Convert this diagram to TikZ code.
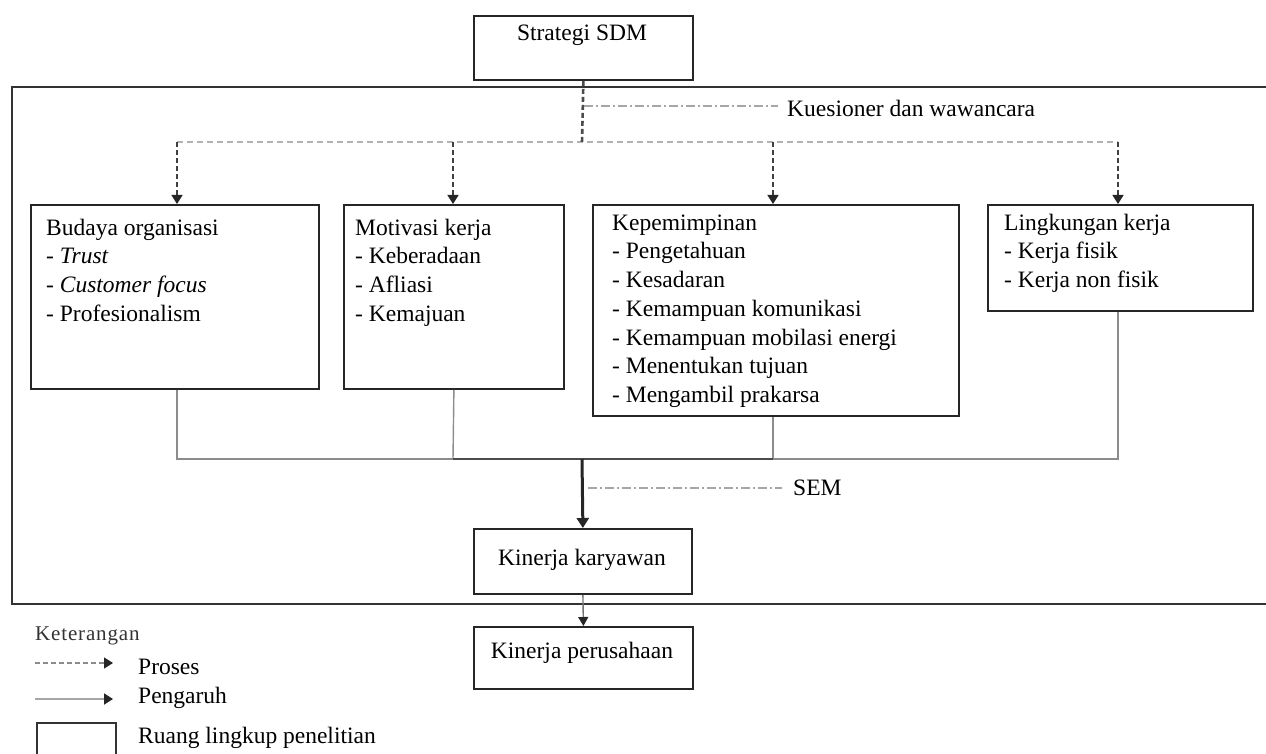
\documentclass[tikz,border=0pt]{standalone}
\usepackage{fontspec}
\setmainfont{Liberation Serif}
\newfontfamily\ketfont[LetterSpace=4]{Liberation Serif}
\usetikzlibrary{arrows.meta}
\begin{document}
\begin{tikzpicture}[x=1pt,y=-1pt,
  box/.style={draw=black!85, line width=1.8pt, inner sep=0pt, anchor=north west},
  txt/.style={font=\fontsize{23.5}{28.7}\selectfont, align=left, inner sep=0pt, anchor=north west},
  ctxt/.style={font=\fontsize{23.5}{28.7}\selectfont, inner sep=0pt},
  tip/.style={-{Triangle[length=9pt,width=11pt,color=black!85]}},
  proc/.style={tip, draw=black!75, line width=1.5pt, dash pattern=on 5pt off 3pt},
  procmain/.style={draw=black!70, line width=2.6pt, dash pattern=on 5pt off 3pt},
  prochor/.style={draw=black!30, line width=2.8pt, dash pattern=on 6pt off 4pt},
  infl/.style={draw=black!45, line width=1.4pt},
  infldark/.style={draw=black!70, line width=1.6pt},
  bigarrow/.style={-{Triangle[length=10pt,width=12pt]}, draw=black!85, line width=3pt},
  smallarrow/.style={-{Triangle[length=9pt,width=10pt,color=black!85]}, draw=black!55, line width=1.4pt},
  dashdot/.style={draw=black!35, line width=1.6pt, dash pattern=on 9pt off 3pt on 2pt off 3pt},
  frame/.style={draw=black!80, line width=2.4pt},
]
\useasboundingbox (0,0) rectangle (1266,754);

% outer frame (scope of research)
\draw[frame] (1280,87) -- (12,87) -- (12,604) -- (1280,604);

% top box
\node[box, minimum width=219pt, minimum height=64pt] (sdm) at (473,15) {};
\node[ctxt] (sdmt) at (582,35) {Strategi SDM};

% four boxes
\node[box, minimum width=288pt, minimum height=184pt] (bud) at (30,204) {};
\node[box, minimum width=220pt, minimum height=184pt] (mot) at (343,204) {};
\node[box, minimum width=366pt, minimum height=211pt] (kep) at (592,204) {};
\node[box, minimum width=265pt, minimum height=106pt] (lin) at (987,204) {};

\node[txt] (budt) at (46,215) {\strut Budaya organisasi\\- \textit{Trust}\\- \textit{Customer focus}\\- Profesionalism};
\node[txt] (mott) at (355,215) {\strut Motivasi kerja\\- Keberadaan\\- Afliasi\\- Kemajuan};
\node[txt] (kept) at (612,210) {\strut Kepemimpinan\\- Pengetahuan\\- Kesadaran\\- Kemampuan komunikasi\\- Kemampuan mobilasi energi\\- Menentukan tujuan\\- Mengambil prakarsa};
\node[txt] (lint) at (1004,210) {\strut Lingkungan kerja\\- Kerja fisik\\- Kerja non fisik};

% bottom boxes
\node[box, minimum width=218pt, minimum height=65pt] (kk) at (473,528) {};
\node[ctxt] (kkt) at (582,560) {Kinerja karyawan};
\node[box, minimum width=219pt, minimum height=62pt] (kp) at (473,626) {};
\node[ctxt] (kpt) at (582,653) {Kinerja perusahaan};

% process connectors
\coordinate (top) at (582,142);
\coordinate (j1) at (177,142);
\coordinate (j2) at (453,142);
\coordinate (j3) at (773,142);
\coordinate (j4) at (1118,142);
\draw[prochor] (j1) -- (j4);
\draw[procmain] (sdm.south) -- (top);
\draw[proc] (j1) -- (j1 |- bud.north);
\draw[proc] (j2) -- (j2 |- mot.north);
\draw[proc] (j3) -- (j3 |- kep.north);
\draw[proc] (j4) -- (j4 |- lin.north);

% kuesioner label
\coordinate (kq) at (584,106);
\coordinate (kqe) at (778,106);
\node[ctxt, anchor=west] (kuest) at (787,108) {Kuesioner dan wawancara};
\draw[dashdot] (kq) -- (kqe);

% influence connectors
\coordinate (b1) at (177,459);
\coordinate (b2) at (453,459);
\coordinate (b3) at (773,459);
\coordinate (b4) at (1118,459);
\coordinate (bm) at (582,459);
\draw[infl] (j1 |- bud.south) -- (b1) -- (b4) -- (j4 |- lin.south);
\draw[infl] (mot.south) -- (b2);
\draw[infl] (j3 |- kep.south) -- (b3);
\draw[infldark] (b2) -- (b3);
\draw[bigarrow] (bm) -- (kk.north);

% SEM label
\coordinate (sm) at (588,488);
\coordinate (sme) at (782,488);
\node[ctxt, anchor=west] (semt) at (793,488) {SEM};
\draw[dashdot] (sm) -- (sme);

% kinerja karyawan -> kinerja perusahaan
\draw[smallarrow] (kk.south) -- (kp.north);

% legend
\node[inner sep=0pt, anchor=west, text=black!80, font=\ketfont\fontsize{21}{24}\selectfont] (ket) at (35,636) {Keterangan};
\coordinate (l1a) at (35,663);
\coordinate (l1b) at (113,663);
\draw[tip, draw=black!45, line width=1.3pt, dash pattern=on 5pt off 3pt] (l1a) -- (l1b);
\node[ctxt, anchor=west] (lpro) at (138,667) {Proses};
\coordinate (l2a) at (35,699);
\coordinate (l2b) at (113,699);
\draw[tip, draw=black!35, line width=1.8pt] (l2a) -- (l2b);
\node[ctxt, anchor=west] (lpen) at (138,698) {Pengaruh};
\draw[draw=black!80, line width=2pt] (37,760) -- (37,723) -- (116,723) -- (116,760);
\node[ctxt, anchor=west] (lrua) at (138,738) {Ruang lingkup penelitian};
\end{tikzpicture}
\end{document}
